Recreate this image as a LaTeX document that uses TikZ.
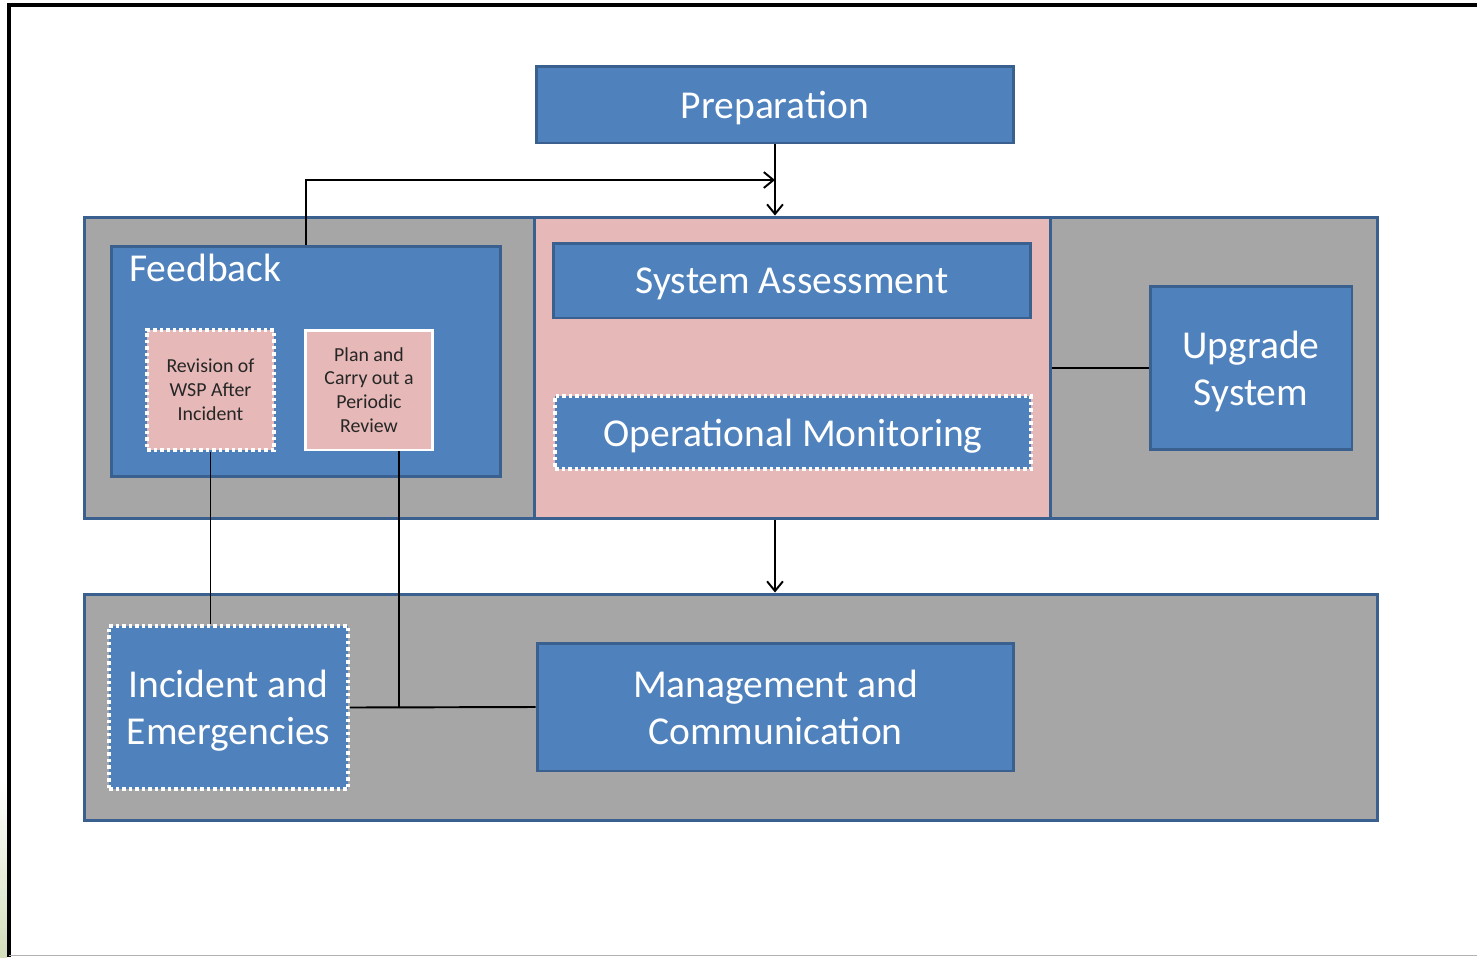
\documentclass[tikz,border=0pt]{standalone}
\usepackage{fontspec}
\setmainfont{Carlito}
\usetikzlibrary{arrows.meta,calc}
\definecolor{boxblue}{HTML}{4F81BD}
\definecolor{edgeblue}{HTML}{3A6090}
\definecolor{bandgray}{HTML}{A6A6A6}
\definecolor{rosepink}{HTML}{E6B9B8}
\definecolor{leafgreen}{HTML}{D3DEBB}
\newcommand{\bigtxt}{\fontsize{22.5}{27}\selectfont}
\newcommand{\smalltxt}{\fontsize{11.3}{13.6}\selectfont}

\begin{document}
\begin{tikzpicture}[x=0.02cm,y=-0.02cm,
  bluebox/.style={draw=edgeblue,line width=1.7pt,fill=boxblue,text=white,font=\bigtxt,align=center,inner sep=0pt,text depth=-0.8pt},
  band/.style={draw=edgeblue,line width=1.7pt,fill=bandgray,inner sep=0pt},
  dotedge/.style={draw=white,line width=2pt,dash pattern=on 2pt off 1.7pt},
  smallbox/.style={fill=rosepink,text=black!85,font=\smalltxt,align=center,inner sep=0pt,text depth=-2.2pt},
  link/.style={line width=1.1pt},
  arr/.style={link,-{Straight Barb[length=5.5pt,width=9pt]}}]
\useasboundingbox (0,0) rectangle (1477,957);
%page frame
\fill[bottom color=leafgreen,top color=white] (0,780) rectangle (7,957);
\draw[line width=2pt] (9,957) -- (9,5) -- (1477,5);
\draw[gray!60,line width=0.6pt] (9,955.5) -- (1477,955.5);
%the two grey bands and the pink middle part
\node[band,minimum width=25.88cm,minimum height=6.04cm] (upper) at (731,368) {};
\node[band,fill=rosepink,minimum width=10.34cm,minimum height=6.04cm] (core) at (792.5,368) {};
\node[band,minimum width=25.88cm,minimum height=4.54cm] (lower) at (731,707.5) {};
%top box
\node[bluebox,minimum width=9.56cm,minimum height=1.54cm] (prep) at (775,104.5) {Preparation};
%feedback box with its two small boxes
\node[bluebox,minimum width=7.8cm,minimum height=4.62cm] (fb) at (306,361.5) {};
\node[font=\bigtxt,text=white,anchor=base west,inner sep=0pt] (fbtitle) at (129,281) {Feedback};
\node[smallbox,dotedge,minimum width=2.54cm,minimum height=2.4cm] (rev) at (210.5,390) {Revision of\\WSP After\\Incident};
\node[smallbox,draw=white,line width=1.7pt,minimum width=2.56cm,minimum height=2.4cm] (plan) at (369,390) {Plan and\\Carry out a\\Periodic\\Review};
%middle boxes
\node[bluebox,minimum width=9.56cm,minimum height=1.5cm] (sa) at (792,280.5) {System Assessment};
\node[bluebox,dotedge,minimum width=9.52cm,minimum height=1.46cm] (om) at (793,432.5) {Operational Monitoring};
\node[bluebox,minimum width=4.04cm,minimum height=3.28cm] (up) at (1251,368) {Upgrade\\System};
%bottom boxes
\node[bluebox,dotedge,minimum width=4.78cm,minimum height=3.26cm] (inc) at (228.5,707.5) {Incident and\\Emergencies};
\node[bluebox,minimum width=9.54cm,minimum height=2.56cm] (mgmt) at (775.5,707) {Management and\\Communication};
%arrows
\coordinate (mid) at ($(prep.south)!0.5!(prep.south |- upper.north)$);
\draw[arr] (prep.south) -- (prep.south |- upper.north);
\draw[arr] (fb.north) |- (mid);
\draw[arr] (prep.south |- core.south) -- (prep.south |- lower.north);
%plain lines
\draw[link] (core.east) -- (up.west);
\draw[link] (rev.south) -- (rev.south |- inc.north);
\coordinate (tap) at ($(plan.south)+(30,0)$);
\draw[link] (tap) -- (tap |- inc.east);
\draw[link] (inc.east) -- (mgmt.west);
\end{tikzpicture}
\end{document}
